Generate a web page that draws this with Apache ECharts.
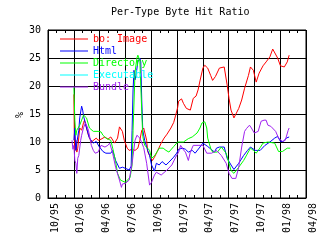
<!DOCTYPE html>
<html>
<head>
<meta charset="utf-8">
<script src="https://cdn.jsdelivr.net/npm/echarts@6/dist/echarts.min.js"></script>
<style>html,body{margin:0;padding:0;background:#fff}#c{width:320px;height:240px}</style>
</head>
<body>
<div id="c"></div>
<script>
// x = months since Oct 1995 (0 = 10/95), y = percent
var titleText = 'Per-Type Byte Hit Ratio';
var yName = '%';
var seriesNames = ['bo: Image', 'Html', 'Directory', 'Executable', 'Bundle'];
var seriesColors = ['#ff0000', '#0000ff', '#00ff00', '#00ffff', '#a020f0'];
var yTicks = [0, 5, 10, 15, 20, 25, 30];
var xTickMonths = [0, 3, 6, 9, 12, 15, 18, 21, 24, 27, 30];

var imageData = [[3.01,18.5],[3.06,11.2],[3.12,8.5],[3.24,10.3],[3.35,8.2],[3.46,8.9],[3.69,12.5],[3.91,12.1],[4.14,13.5],[4.25,13.9],[4.48,12.5],[4.70,11.2],[5.04,10.0],[5.27,10.3],[5.61,10.7],[5.83,10.3],[6.17,10.5],[6.62,10.9],[6.96,10.5],[7.30,10.9],[7.75,9.8],[8.09,10.7],[8.31,12.7],[8.54,12.5],[8.65,11.9],[8.87,10.3],[9.21,8.9],[9.44,8.5],[9.78,8.7],[10.12,8.5],[10.45,8.9],[10.68,10.3],[10.90,12.1],[11.13,12.5],[11.24,12.3],[11.47,10.3],[11.59,8.3],[11.81,7.6],[12.15,6.7],[12.38,7.3],[12.71,8.3],[13.16,9.8],[13.50,10.7],[13.84,11.4],[14.29,12.5],[14.62,13.5],[14.85,14.8],[15.08,16.2],[15.19,17.3],[15.53,17.7],[15.75,16.9],[16.09,16.0],[16.55,15.7],[16.89,17.8],[17.22,18.2],[17.45,19.3],[17.67,20.9],[18.01,23.2],[18.23,23.7],[18.57,23.2],[18.91,21.9],[19.14,21.0],[19.47,21.7],[19.93,23.2],[20.15,23.5],[20.49,23.4],[20.83,20.2],[21.05,17.8],[21.28,15.7],[21.62,14.3],[21.84,14.6],[22.18,16.0],[22.52,17.5],[22.86,19.6],[23.31,21.9],[23.54,23.4],[23.88,22.8],[24.21,20.7],[24.55,22.3],[25.00,23.6],[25.36,24.3],[25.80,25.2],[26.13,26.6],[26.36,26.4],[26.70,25.0],[27.03,23.6],[27.48,23.4],[27.82,24.3],[28.04,25.5]];

var htmlData = [[3.01,10.3],[3.12,12.5],[3.24,8.5],[3.35,9.8],[3.58,12.1],[3.69,14.3],[3.91,16.4],[4.03,15.7],[4.14,14.6],[4.48,12.5],[4.82,10.7],[5.27,9.8],[5.61,10.1],[5.94,9.2],[6.39,8.3],[6.73,8.0],[7.30,8.0],[7.52,8.5],[7.86,6.7],[8.31,5.3],[8.65,5.5],[8.99,5.3],[9.44,5.0],[9.67,5.7],[9.78,12.1],[9.89,19.3],[10.00,22.8],[10.12,21.1],[10.23,21.9],[10.45,24.3],[10.68,25.0],[10.79,24.3],[10.90,17.5],[11.02,12.1],[11.24,10.3],[11.59,8.5],[11.81,7.6],[12.04,5.9],[12.38,4.8],[12.60,6.2],[12.93,5.9],[13.27,6.5],[13.72,5.9],[14.06,6.4],[14.62,7.3],[14.96,8.0],[15.19,8.7],[15.64,8.9],[15.98,8.7],[16.32,8.2],[16.77,8.5],[17.11,8.0],[17.67,9.1],[18.01,9.8],[18.23,9.8],[18.57,9.2],[18.80,8.9],[19.36,8.2],[19.59,8.9],[19.93,9.1],[20.49,9.1],[20.83,7.1],[21.28,5.9],[21.62,5.1],[22.18,6.2],[22.75,7.6],[23.20,8.5],[23.54,9.1],[24.10,8.5],[24.67,8.5],[25.23,9.4],[25.80,10.0],[26.36,10.7],[26.70,11.0],[27.03,10.1],[27.37,10.1],[27.71,10.7],[28.04,10.9]];

var directoryData = [[3.01,19.8],[3.12,13.9],[3.24,11.2],[3.35,12.1],[3.58,11.8],[3.69,13.0],[3.91,13.9],[4.14,14.8],[4.36,14.6],[4.48,14.3],[4.82,12.5],[5.27,11.9],[5.83,11.9],[6.17,11.8],[6.39,11.2],[6.73,10.7],[7.30,10.3],[7.52,8.9],[7.75,7.3],[7.86,6.5],[8.09,4.4],[8.42,3.2],[8.99,2.8],[9.55,3.7],[9.78,5.9],[9.89,12.1],[10.12,22.5],[10.34,25.0],[10.45,25.5],[10.68,24.5],[10.90,15.5],[11.02,11.0],[11.24,9.4],[11.59,8.9],[11.81,8.5],[12.04,7.1],[12.38,7.5],[12.60,7.3],[12.93,8.9],[13.39,8.9],[13.72,8.5],[14.06,8.2],[14.62,9.2],[15.08,10.0],[15.75,10.0],[16.32,10.6],[16.77,10.9],[17.33,11.6],[17.67,12.5],[17.90,13.4],[18.23,13.6],[18.46,12.5],[18.57,10.7],[18.91,8.9],[19.14,8.2],[19.70,8.2],[20.15,9.1],[20.72,8.0],[21.05,6.2],[21.28,4.9],[21.62,4.4],[22.18,5.5],[22.75,6.7],[23.54,8.9],[23.88,8.5],[24.21,8.0],[24.67,9.0],[25.00,9.8],[25.57,10.0],[26.36,9.8],[26.81,8.3],[27.26,8.3],[27.82,8.9],[28.16,8.9]];

var executableData = [];

var bundleData = [[2.79,10.3],[2.90,8.7],[3.01,9.4],[3.12,6.7],[3.24,6.2],[3.35,4.4],[3.46,7.1],[3.58,7.6],[3.80,10.3],[3.91,11.2],[4.14,12.6],[4.36,13.4],[4.48,13.0],[4.70,12.1],[5.04,9.4],[5.27,8.5],[5.49,8.0],[5.83,8.2],[6.17,9.4],[6.62,9.1],[6.96,9.4],[7.18,9.8],[7.52,8.0],[7.86,5.5],[8.31,3.2],[8.54,1.9],[8.65,2.5],[8.99,2.6],[9.44,3.2],[9.78,6.2],[10.12,10.3],[10.34,11.2],[10.68,10.7],[11.13,9.0],[11.47,6.2],[11.81,2.3],[12.04,2.8],[12.38,4.1],[12.60,4.6],[13.16,4.1],[13.39,4.4],[13.84,5.0],[14.06,5.3],[14.40,5.9],[14.85,7.3],[15.19,8.2],[15.42,9.4],[15.75,8.6],[15.98,8.2],[16.32,6.7],[16.55,8.2],[16.89,9.4],[17.45,9.4],[18.01,9.4],[18.46,8.0],[19.02,8.0],[19.59,8.5],[20.15,7.6],[20.72,6.2],[21.05,4.4],[21.39,3.5],[21.84,3.5],[22.18,5.5],[22.52,9.1],[22.86,11.9],[23.08,12.4],[23.43,13.0],[23.65,12.5],[23.99,11.6],[24.44,11.9],[24.78,13.7],[25.12,13.9],[25.36,13.9],[25.57,13.0],[25.91,12.8],[26.13,13.0],[26.47,11.9],[26.81,10.7],[27.26,10.1],[27.59,10.3],[27.93,12.1],[28.04,12.5]];

var allData = [imageData, htmlData, directoryData, executableData, bundleData];

function monthLabel(m) {
  var t = 9 + Math.round(m);
  var mo = (t % 12) + 1;
  var yr = (95 + Math.floor(t / 12)) % 100;
  return (mo < 10 ? '0' : '') + mo + '/' + (yr < 10 ? '0' : '') + yr;
}

var FONT = 'DejaVu Sans Mono';
var chart = echarts.init(document.getElementById('c'), null, {renderer: 'canvas'});
var xMin = xTickMonths[0], xMax = xTickMonths[xTickMonths.length - 1];
var yMin = yTicks[0], yMax = yTicks[yTicks.length - 1];

chart.setOption({
  animation: false,
  backgroundColor: '#ffffff',
  title: {
    text: titleText, left: 111, top: 7, padding: 0,
    textStyle: {fontFamily: FONT, fontSize: 10, fontWeight: 'normal', color: '#000'}
  },
  graphic: [{
    type: 'text', x: 20, y: 115, rotation: Math.PI / 2,
    style: {text: yName, fontFamily: FONT, fontSize: 10, fill: '#000', align: 'center', verticalAlign: 'middle'}
  }],
  legend: {
    orient: 'vertical', left: 60, top: 33, padding: 0,
    itemWidth: 28, itemHeight: 1, itemGap: 0, icon: 'rect',
    textStyle: {fontFamily: FONT, fontSize: 10, lineHeight: 12, height: 12},
    data: seriesNames.map(function (n, i) {
      return {name: n, icon: 'rect', itemStyle: {color: seriesColors[i]}, textStyle: {color: seriesColors[i]}};
    })
  },
  grid: {left: 48, right: 6, top: 30, bottom: 42, show: true, borderColor: '#000', borderWidth: 1, backgroundColor: 'transparent'},
  xAxis: [{
    type: 'value', min: xMin, max: xMax, interval: 3,
    axisLine: {show: true, lineStyle: {color: '#000', width: 1}},
    axisTick: {show: true, inside: true, length: 4, lineStyle: {color: '#000'}},
    minorTick: {show: true, splitNumber: 3, length: 3, lineStyle: {color: '#000'}},
    splitLine: {show: true, lineStyle: {color: '#000', width: 1}},
    axisLabel: {
      rotate: 90, margin: 5, verticalAlign: 'top', lineHeight: 14,
      fontFamily: FONT, fontSize: 10, color: '#000',
      showMinLabel: true, showMaxLabel: true,
      formatter: function (v) { return monthLabel(v); }
    }
  }, {
    type: 'value', position: 'top', min: xMin, max: xMax, interval: 3,
    axisLine: {show: false},
    axisTick: {show: true, inside: true, length: 4, lineStyle: {color: '#000'}},
    minorTick: {show: true, splitNumber: 3, length: 3, lineStyle: {color: '#000'}},
    splitLine: {show: false},
    axisLabel: {show: false}
  }],
  yAxis: {
    type: 'value', min: yMin, max: yMax, interval: 5,
    axisLine: {show: true, lineStyle: {color: '#000'}},
    axisTick: {show: false},
    splitLine: {show: true, lineStyle: {color: '#000', width: 1}},
    axisLabel: {fontFamily: FONT, fontSize: 10, color: '#000', margin: 7}
  },
  series: seriesNames.map(function (n, i) {
    return {
      name: n, type: 'line', xAxisIndex: 0, data: allData[i],
      showSymbol: false, symbol: 'none', smooth: false,
      color: seriesColors[i],
      lineStyle: {color: seriesColors[i], width: 1},
      emphasis: {disabled: true}
    };
  })
});
</script>
</body>
</html>
